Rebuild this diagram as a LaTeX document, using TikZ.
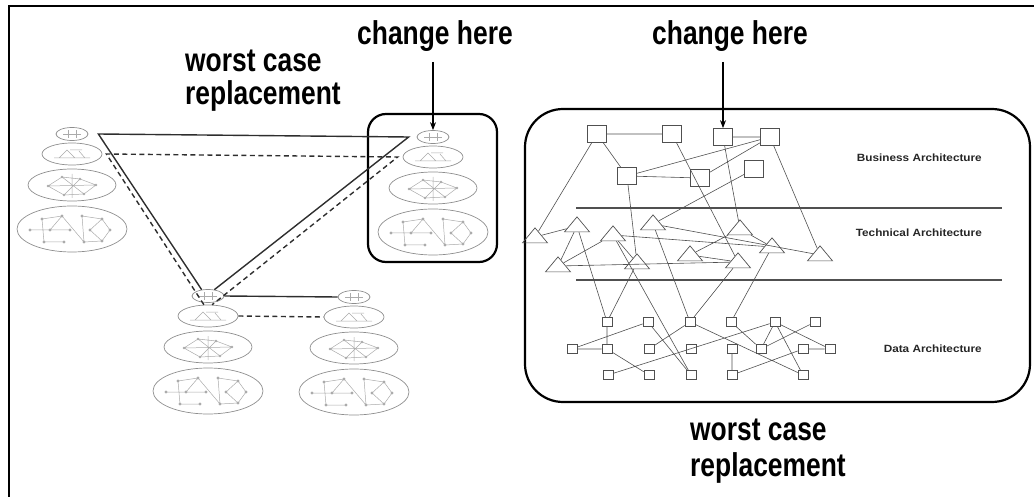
\documentclass[tikz,border=0pt]{standalone}
\usepackage{fontspec}
\setmainfont{Liberation Sans}
\newfontfamily\headfont[FakeStretch=0.8]{Liberation Sans}
\newfontfamily\layerfont[FakeStretch=1.12]{Liberation Sans}
\usetikzlibrary{shapes.geometric,arrows.meta,calc}
\definecolor{ringgray}{HTML}{8E8E8E}
\definecolor{innergray}{HTML}{ABABAB}
\definecolor{netgray}{HTML}{505050}
\definecolor{linkgray}{HTML}{2E2E2E}
\tikzset{
  ring/.style={ellipse, draw=ringgray, line width=0.7pt, inner sep=0pt},
  inner/.style={draw=innergray, line width=0.5pt},
  headtext/.style={font=\headfont\bfseries\fontsize{33}{33}\selectfont, align=left, inner sep=0pt},
  layertext/.style={font=\layerfont\bfseries\fontsize{10.5}{12}\selectfont, text=black!85, inner sep=0pt, anchor=east},
  frame/.style={line width=2pt, draw=black},
  roundbox/.style={draw=black, line width=2.2pt},
  solidlink/.style={draw=linkgray, line width=1.4pt},
  dashlink/.style={draw=linkgray, line width=1.4pt, dash pattern=on 5pt off 3.5pt},
  pointer/.style={draw=black, line width=1.3pt, -{Stealth[length=8pt,width=6pt]}},
  net/.style={draw=netgray, line width=0.6pt},
  bsq/.style={rectangle, draw=netgray, line width=0.7pt, minimum width=19pt, minimum height=17pt, inner sep=0pt},
  dsq/.style={rectangle, draw=netgray, line width=0.6pt, minimum width=10pt, minimum height=9pt, inner sep=0pt},
  tri/.style={isosceles triangle, isosceles triangle stretches, shape border rotate=90, draw=netgray, line width=0.7pt, minimum width=25pt, minimum height=15pt, inner sep=0pt},
  sepline/.style={draw=netgray, line width=1.4pt},
  pics/stack/.style={code={
    \node[ring, minimum width=32pt, minimum height=13pt] (-e1) at (0,0) {};
    \node[ring, minimum width=60pt, minimum height=22pt] (-e2) at (0,20) {};
    \node[ring, minimum width=88pt, minimum height=32pt] (-e3) at (0,51) {};
    \node[ring, minimum width=110pt, minimum height=46pt] (-e4) at (0,95) {};
    \draw[inner] (-9,0) -- (9,0) (-4,-4) -- (-4,4) (4,-4) -- (4,4);
    \draw[inner] (-18,24) -- (18,24) (-13,24) -- (-5,16) -- (3,24) (7,17) -- (13,24) (-2,16) -- (10,16);
    \draw[inner] (-24,52) -- (-10,43) -- (8,45) -- (24,51) -- (12,60) -- (-8,61) -- cycle
                 (-10,43) -- (12,60) (8,45) -- (-8,61) (-24,52) -- (24,51) (0,40) -- (0,64);
    \foreach \p in {(-24,52),(-10,43),(8,45),(24,51),(12,60),(-8,61)} \fill[innergray] \p circle (1.4);
    \draw[inner] (-30,85) -- (-10,82) (10,82) -- (30,85) (-30,85) -- (-28,108) (-10,82) -- (12,108)
                 (10,82) -- (12,108) (30,85) -- (38,96) -- (30,107) -- (18,96) -- (30,85)
                 (-42,96) -- (-22,96) -- (-2,96) (-28,108) -- (-8,108) (12,108) -- (30,107) (-10,82) -- (-22,96);
    \foreach \p in {(-30,85),(-10,82),(10,82),(30,85),(-42,96),(-22,96),(-2,96),(18,96),(38,96),(-28,108),(-8,108),(12,108),(30,107)}
      \fill[innergray] \p circle (1.6);
  }}
}
\begin{document}
\begin{tikzpicture}[x=1pt,y=-1pt]
\useasboundingbox (0,0) rectangle (1034,497);
\draw[frame] (9,497) -- (9,6) -- (1034,6);
% texts
\node[headtext, anchor=base] (ch1) at (435,45) {change here};
\node[headtext, anchor=base] (ch2) at (730,45) {change here};
\node[headtext, anchor=base west, font=\headfont\bfseries\fontsize{33}{33}\selectfont] (wc1) at (185,105) {worst case\\replacement};
\node[headtext, anchor=base west, font=\headfont\bfseries\fontsize{33}{36}\selectfont] (wc2) at (690,476) {worst case\\replacement};
% boxes
\draw[roundbox, rounded corners=18pt] (368,114) rectangle (497,262);
\draw[roundbox, rounded corners=38pt] (525,109) rectangle (1030,402);
% stacks
\pic (A) at (72,134) {stack};
\pic (B) at (433,137) {stack};
\pic (C) at (208,296) {stack};
\pic (D) at (354,297) {stack};
% stack links
\coordinate (vL) at ($(A-e1.east)+(10,0)$);
\coordinate (vR) at ($(B-e1.west)+(-8,0)$);
\draw[solidlink, line join=miter] (C-e1.135) -- (vL) -- (vR) -- (C-e1.45);
\coordinate (wL) at ($(A-e2.east)+(4,0)$);
\coordinate (wR) at ($(B-e2.west)+(-5,0)$);
\draw[dashlink] (C-e2.110) -- (wL) -- (wR) -- (C-e2.70);
\draw[solidlink] (C-e1.east) -- (D-e1.west);
\draw[dashlink] (C-e2.east) -- (D-e2.west);
% pointers
\coordinate (a1) at (433,62);
\draw[pointer] (a1) -- (B-e1.north);
% right panel: business
\node[bsq] (S1) at (597,134) {};
\node[bsq] (S2) at (672,134) {};
\node[bsq] (S3) at (723,137) {};
\node[bsq] (S4) at (770,137) {};
\node[bsq] (S5) at (627,176) {};
\node[bsq] (S6) at (700,178) {};
\node[bsq] (S7) at (754,169) {};
\coordinate (a2) at (723,62);
\draw[pointer] (a2) -- (S3.north);
% technical
\node[tri] (T1) at (535,237) {};
\node[tri] (T2) at (577,226) {};
\node[tri] (T3) at (613,235) {};
\node[tri] (T4) at (653,224) {};
\node[tri] (T5) at (740,229) {};
\node[tri] (T6) at (558,266) {};
\node[tri] (T7) at (637,263) {};
\node[tri] (T8) at (690,255) {};
\node[tri] (T9) at (738,262) {};
\node[tri] (T10) at (772,247) {};
\node[tri] (T11) at (820,255) {};
% data
\node[dsq] (D1a) at (607,322) {};
\node[dsq] (D1b) at (648,322) {};
\node[dsq] (D1c) at (690,322) {};
\node[dsq] (D1d) at (731,322) {};
\node[dsq] (D1e) at (775,322) {};
\node[dsq] (D1f) at (815,322) {};
\node[dsq] (D2a) at (572,349) {};
\node[dsq] (D2b) at (607,349) {};
\node[dsq] (D2c) at (649,349) {};
\node[dsq] (D2d) at (691,349) {};
\node[dsq] (D2e) at (732,349) {};
\node[dsq] (D2f) at (761,349) {};
\node[dsq] (D2g) at (803,349) {};
\node[dsq] (D2h) at (830,349) {};
\node[dsq] (D3a) at (608,375) {};
\node[dsq] (D3b) at (649,375) {};
\node[dsq] (D3c) at (691,375) {};
\node[dsq] (D3d) at (732,375) {};
\node[dsq] (D3e) at (803,375) {};
% separators and labels
\draw[sepline] (576,208) -- (1002,208);
\draw[sepline] (576,280) -- (1002,280);
\node[layertext] (lb) at (982,158) {Business Architecture};
\node[layertext] (lt) at (982,233) {Technical Architecture};
\node[layertext] (ld) at (982,349) {Data Architecture};
% edges
\draw[net] (S1) -- (S2) (S3) -- (S4) (S5) -- (S6) (S1) -- (S5) (S1) -- (T1) (S5) -- (S4)
  (S4) -- (S6) (S2) -- (T9) (S3) -- (T5) (S4) -- (T11) (S5) -- (T7) (S7) -- (T4);
\draw[net] (T1) -- (T2) (T6) -- (T2) (T6) -- (T3) (T6) -- (T9) (T3) -- (T7) (T3) -- (T10)
  (T4) -- (T11) (T8) -- (T5) (T8) -- (T9) (T5) -- (T10);
\draw[net] (T2) -- (D1a) (T7) -- (D1a) (T3) -- (D3c) (T4) -- (D1c) (T9) -- (D1c) (T10) -- (D1d);
\draw[net] (D2a) -- (D1b) (D2a) -- (D2b) (D1a) -- (D2b) (D2b) -- (D3b) (D3a) -- (D1e) (D2c) -- (D1c)
  (D1b) -- (D3c) (D1c) -- (D3e) (D1d) -- (D2f) (D1e) -- (D2f) (D1e) -- (D2h) (D1e) -- (D3e)
  (D2f) -- (D1f) (D2g) -- (D2h) (D3d) -- (D2g) (D2e) -- (D3d);
\end{tikzpicture}
\end{document}
